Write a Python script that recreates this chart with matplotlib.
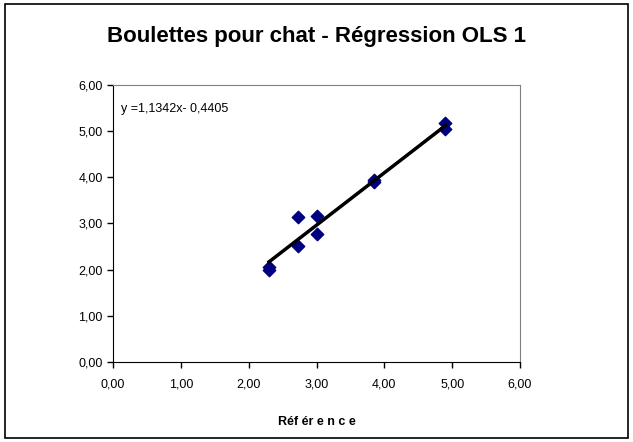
import numpy as np
import matplotlib.pyplot as plt
from matplotlib.patches import Rectangle

plt.rcParams["font.family"] = ["Liberation Sans", "DejaVu Sans"]

# data
reference = [2.30, 2.30, 2.72, 2.72, 3.00, 3.00, 3.85, 3.85, 4.90, 4.90]
mesure = [2.05, 2.00, 3.13, 2.52, 3.17, 2.78, 3.95, 3.90, 5.18, 5.05]
slope, intercept = 1.1342, -0.4405
ticks = [0, 1, 2, 3, 4, 5, 6]


def fr(v):
    return f"{v:.2f}".replace(".", ",")


fig = plt.figure(figsize=(6.33, 4.42), dpi=100)
fig.patches.append(Rectangle((0.008, 0.01), 0.984, 0.98, transform=fig.transFigure,
                             fill=False, edgecolor="black", linewidth=1.2))

ax = fig.add_axes([0.1785, 0.181, 0.643, 0.627])

xs = np.array([min(reference), max(reference)])
p = np.polyfit(reference, mesure, 1)
ax.plot(xs, np.polyval(p, xs), color="magenta", linewidth=1, zorder=2)
ax.scatter(reference, mesure, marker="D", s=40, color="#000080", zorder=3)
ax.plot(xs, slope * xs + intercept, color="black", linewidth=2.5, zorder=4)

ax.set_xlim(0, 6)
ax.set_ylim(0, 6)
ax.set_xticks(ticks)
ax.set_yticks(ticks)
ax.set_xticklabels([fr(t) for t in ticks], fontsize=9)
ax.set_yticklabels([fr(t) for t in ticks], fontsize=9)
ax.tick_params(direction="out", length=4, width=1)
ax.tick_params(axis="x", pad=8)

for s in ["top", "right"]:
    ax.spines[s].set_color("#808080")
for s in ["left", "bottom"]:
    ax.spines[s].set_color("black")

eq = f"y =1,{str(slope).split('.')[1]}x- {str(-intercept).replace('.', ',')}"
ax.text(0.12, 5.47, eq, fontsize=9, va="center")

ax.set_xlabel("Réf ér e n c e", fontsize=9, fontweight="bold", labelpad=18)
fig.text(0.5, 0.918, "Boulettes pour chat - Régression OLS 1", ha="center",
         va="center", fontsize=16, fontweight="bold")

fig.savefig("out.png", dpi=100)
